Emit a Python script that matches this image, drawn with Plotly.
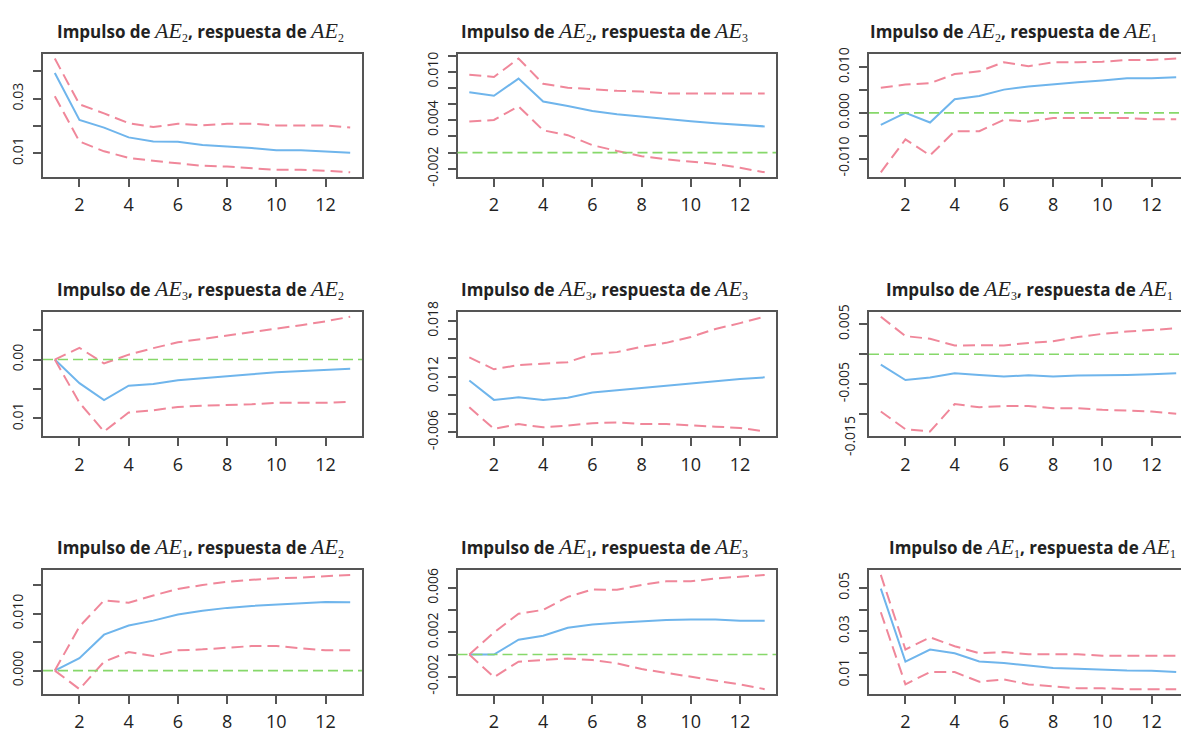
import plotly.graph_objects as go
from plotly.subplots import make_subplots

W, H = 1181, 737
horizon = list(range(1, 14))
xticks = [2, 4, 6, 8, 10, 12]
xlabels = ["2", "4", "6", "8", "10", "12"]

# ---- Impulse AE2 ----
irf_2_2 = [0.0394, 0.0222, 0.0194, 0.0158, 0.0143, 0.0142, 0.0130, 0.0125, 0.0119, 0.0111, 0.0111, 0.0106, 0.0102]
hi_2_2 = [0.0447, 0.0279, 0.0246, 0.0210, 0.0196, 0.0208, 0.0202, 0.0208, 0.0208, 0.0202, 0.0202, 0.0202, 0.0194]
lo_2_2 = [0.0309, 0.0143, 0.0107, 0.0083, 0.0072, 0.0062, 0.0054, 0.0051, 0.0045, 0.0039, 0.0039, 0.0036, 0.0030]
yt_2_2 = [0.04, 0.03, 0.02, 0.01]
yl_2_2 = ["", "0.03", "", "0.01"]

irf_2_3 = [0.00748, 0.00704, 0.00916, 0.00632, 0.00576, 0.00516, 0.00476, 0.00444, 0.00416, 0.00388, 0.00364, 0.00344, 0.00324]
hi_2_3 = [0.00964, 0.00936, 0.01164, 0.00852, 0.00804, 0.00780, 0.00764, 0.00756, 0.00732, 0.00732, 0.00732, 0.00732, 0.00732]
lo_2_3 = [0.00384, 0.00404, 0.00572, 0.00276, 0.00216, 0.00092, 0.00020, -0.00044, -0.00084, -0.00108, -0.00140, -0.00188, -0.00244]
yt_2_3 = [0.012, 0.010, 0.008, 0.006, 0.004, 0.002, 0.0, -0.002]
yl_2_3 = ["", "0.010", "", "", "0.004", "", "", "-0.002"]

irf_2_1 = [-0.0026, 0.0000, -0.0021, 0.0030, 0.0037, 0.0051, 0.0058, 0.0063, 0.0067, 0.0071, 0.0076, 0.0076, 0.0078]
hi_2_1 = [0.0055, 0.0062, 0.0065, 0.0085, 0.0091, 0.0111, 0.0102, 0.0111, 0.0111, 0.0112, 0.0116, 0.0116, 0.0119]
lo_2_1 = [-0.0130, -0.0058, -0.0093, -0.0040, -0.0040, -0.0015, -0.0019, -0.0011, -0.0011, -0.0011, -0.0011, -0.0014, -0.0014]
yt_2_1 = [0.01, 0.005, 0.0, -0.005, -0.01]
yl_2_1 = ["0.010", "", "0.000", "", "-0.010"]

# ---- Impulse AE3 ----
irf_3_2 = [0.0, -0.0040, -0.00689, -0.00444, -0.00417, -0.0035, -0.00317, -0.00278, -0.0025, -0.00217, -0.00194, -0.00172, -0.00156]
hi_3_2 = [0.0, 0.0020, -0.00067, 0.00083, 0.00194, 0.00294, 0.0035, 0.00406, 0.00461, 0.00517, 0.00583, 0.0065, 0.00728]
lo_3_2 = [0.0, -0.00733, -0.01222, -0.0090, -0.00861, -0.00806, -0.00783, -0.00772, -0.00761, -0.00733, -0.00733, -0.00733, -0.00717]
yt_3_2 = [0.005, 0.0, -0.005, -0.01]
yl_3_2 = ["", "0.00", "", "0.01"]

irf_3_3 = [0.01156, 0.00948, 0.00976, 0.00948, 0.00972, 0.01028, 0.01052, 0.01077, 0.01104, 0.01122, 0.01146, 0.01174, 0.01191]
hi_3_3 = [0.01407, 0.01278, 0.01323, 0.01341, 0.01355, 0.01442, 0.01463, 0.01522, 0.01563, 0.01626, 0.01713, 0.01776, 0.01845]
lo_3_3 = [0.00868, 0.00635, 0.00687, 0.00652, 0.0067, 0.00697, 0.00704, 0.00687, 0.00687, 0.0067, 0.00659, 0.00645, 0.00607]
yt_3_3 = [0.018, 0.016, 0.014, 0.012, 0.010, 0.008, 0.006]
yl_3_3 = ["0.018", "", "", "0.012", "", "", "-0.006"]

irf_3_1 = [-0.00173, -0.00431, -0.00388, -0.00318, -0.00345, -0.00372, -0.00351, -0.00372, -0.00356, -0.00356, -0.00345, -0.00334, -0.00318]
hi_3_1 = [0.00626, 0.00302, 0.00259, 0.00146, 0.00151, 0.00146, 0.00189, 0.00216, 0.00286, 0.0034, 0.00378, 0.0041, 0.00432]
lo_3_1 = [-0.00955, -0.01251, -0.01289, -0.00831, -0.00885, -0.00863, -0.00863, -0.00901, -0.00901, -0.00928, -0.00939, -0.00955, -0.00993]
yt_3_1 = [0.005, 0.0, -0.005, -0.01]
yl_3_1 = ["0.005", "", "-0.005", ""]
extra_label_3_1 = "-0.015"

# ---- Impulse AE1 ----
irf_1_2 = [0.0, 0.00218, 0.0063, 0.0079, 0.00876, 0.00985, 0.01048, 0.011, 0.01134, 0.01157, 0.01174, 0.01203, 0.01197]
hi_1_2 = [0.0, 0.00773, 0.01231, 0.01191, 0.01317, 0.01432, 0.01501, 0.01558, 0.01592, 0.01621, 0.01632, 0.0165, 0.01678]
lo_1_2 = [0.0, -0.00326, 0.00155, 0.00326, 0.00258, 0.00355, 0.00372, 0.00401, 0.0043, 0.0043, 0.00389, 0.00355, 0.00355]
yt_1_2 = [0.015, 0.01, 0.005, 0.0]
yl_1_2 = ["", "0.010", "", "0.000"]

irf_1_3 = [0.0, 0.0, 0.00134, 0.00169, 0.00242, 0.00272, 0.00286, 0.00301, 0.00312, 0.00315, 0.00315, 0.00304, 0.00304]
hi_1_3 = [0.0, 0.00199, 0.00368, 0.00403, 0.0052, 0.00587, 0.00584, 0.00628, 0.0066, 0.0066, 0.00686, 0.00701, 0.00718]
lo_1_3 = [0.0, -0.00204, -0.00064, -0.0005, -0.00035, -0.0005, -0.00079, -0.00131, -0.00166, -0.00204, -0.00239, -0.00269, -0.00312]
yt_1_3 = [0.006, 0.004, 0.002, 0.0, -0.002]
yl_1_3 = ["0.006", "", "0.002", "", "-0.002"]

irf_1_1 = [0.0497, 0.016, 0.0216, 0.0199, 0.0161, 0.0154, 0.0142, 0.0131, 0.0127, 0.0122, 0.0119, 0.0118, 0.0112]
hi_1_1 = [0.056, 0.0216, 0.0272, 0.0231, 0.0199, 0.0204, 0.0194, 0.0194, 0.0194, 0.0187, 0.0187, 0.0187, 0.0187]
lo_1_1 = [0.0388, 0.0055, 0.0112, 0.0112, 0.0067, 0.0078, 0.0055, 0.0045, 0.0037, 0.0037, 0.0033, 0.0033, 0.0033]
yt_1_1 = [0.05, 0.04, 0.03, 0.02, 0.01]
yl_1_1 = ["0.05", "", "0.03", "", "0.01"]

panels = [
    ("2", "2", irf_2_2, lo_2_2, hi_2_2, yt_2_2, yl_2_2),
    ("2", "3", irf_2_3, lo_2_3, hi_2_3, yt_2_3, yl_2_3),
    ("2", "1", irf_2_1, lo_2_1, hi_2_1, yt_2_1, yl_2_1),
    ("3", "2", irf_3_2, lo_3_2, hi_3_2, yt_3_2, yl_3_2),
    ("3", "3", irf_3_3, lo_3_3, hi_3_3, yt_3_3, yl_3_3),
    ("3", "1", irf_3_1, lo_3_1, hi_3_1, yt_3_1, yl_3_1),
    ("1", "2", irf_1_2, lo_1_2, hi_1_2, yt_1_2, yl_1_2),
    ("1", "3", irf_1_3, lo_1_3, hi_1_3, yt_1_3, yl_1_3),
    ("1", "1", irf_1_1, lo_1_1, hi_1_1, yt_1_1, yl_1_1),
]

# layout geometry (pixels)
col_px = [(43, 362), (457.5, 776), (869, 1181)]
row_px = [(44.5, 171.7), (311.7, 440), (579, 706.7)]
title_x = [[200.8, 604.8, 1013.8], [200.8, 604.8, 1029], [200.8, 604.8, 1032.5]]

BLUE = "#6fb5ec"
RED = "#f0879a"
GREEN = "#86d86a"
AXC = "#555555"
TXT = "#222222"

fig = make_subplots(rows=3, cols=3)


def ae(k):
    return ("<span style='font-family:Liberation Serif;font-size:22px;font-style:italic'>AE</span>"
            "<sub style='font-family:Liberation Serif;font-size:14px'>" + k + "</sub>")


full_w = col_px[0][1] - col_px[0][0]
for i, (imp, resp, irf, lo, hi, yt, yl) in enumerate(panels):
    r, c = i // 3 + 1, i % 3 + 1
    n = i + 1
    sfx = "" if n == 1 else str(n)
    x0, x1 = col_px[c - 1]
    y0, y1 = row_px[r - 1]

    allv = irf + lo + hi
    vmin, vmax = min(allv), max(allv)
    pad = 0.04 * (vmax - vmin)
    yr = [vmin - pad, vmax + pad]
    xspan = 12 * 1.08
    xr = [1 - 0.48, 1 - 0.48 + xspan * (x1 - x0) / full_w]

    fig.add_trace(go.Scatter(x=horizon, y=irf, mode="lines", line=dict(color=BLUE, width=2)), row=r, col=c)
    fig.add_trace(go.Scatter(x=horizon, y=hi, mode="lines", line=dict(color=RED, width=2, dash="12px,6px")), row=r, col=c)
    fig.add_trace(go.Scatter(x=horizon, y=lo, mode="lines", line=dict(color=RED, width=2, dash="12px,6px")), row=r, col=c)

    if yr[0] < 0 < yr[1]:
        fig.add_hline(y=0, row=r, col=c, line=dict(color=GREEN, width=1.6, dash="10px,5px"))

    lab_vals = [v for v, t in zip(yt, yl) if t]
    lab_text = [t for t in yl if t]
    minor_vals = [v for v, t in zip(yt, yl) if not t]

    fig.update_xaxes(row=r, col=c, domain=[x0 / W, x1 / W], range=xr,
                     tickmode="array", tickvals=xticks, ticktext=xlabels,
                     ticks="outside", ticklen=8, tickwidth=2, tickcolor=AXC,
                     showline=True, linecolor=AXC, linewidth=2, mirror=True,
                     showgrid=False, zeroline=False, ticklabelstandoff=3,
                     tickfont=dict(family="Open Sans", size=18, color=TXT))
    fig.update_yaxes(row=r, col=c, domain=[1 - y1 / H, 1 - y0 / H], range=yr,
                     tickmode="array", tickvals=lab_vals, ticktext=lab_text, tickangle=-90,
                     ticks="outside", ticklen=8, tickwidth=2, tickcolor=AXC,
                     minor=dict(tickmode="array", tickvals=minor_vals, ticks="outside",
                                ticklen=8, tickwidth=2, tickcolor=AXC, showgrid=False),
                     showline=True, linecolor=AXC, linewidth=2, mirror=(c != 3),
                     showgrid=False, zeroline=False, ticklabelstandoff=4,
                     tickfont=dict(family="Open Sans", size=14, color=TXT))

    title = "<b>Impulso de </b>" + ae(imp) + "<b>, respuesta de </b>" + ae(resp)
    fig.add_annotation(text=title, xref="paper", yref=f"y{sfx} domain",
                       x=title_x[r - 1][c - 1] / W, y=1, yshift=7,
                       xanchor="center", yanchor="bottom", showarrow=False,
                       font=dict(family="Open Sans", size=17, color=TXT))

# extra rotated label on the AE3 -> AE1 panel
fig.add_annotation(text=extra_label_3_1, xref="x6 domain", yref="y6 domain", x=0, y=0,
                   xanchor="center", yanchor="middle", xshift=-20, textangle=-90,
                   showarrow=False, font=dict(family="Open Sans", size=14, color=TXT))

fig.update_layout(width=W, height=H, margin=dict(l=0, r=0, t=0, b=0),
                  paper_bgcolor="white", plot_bgcolor="white", showlegend=False)

fig.write_html("out.html")
